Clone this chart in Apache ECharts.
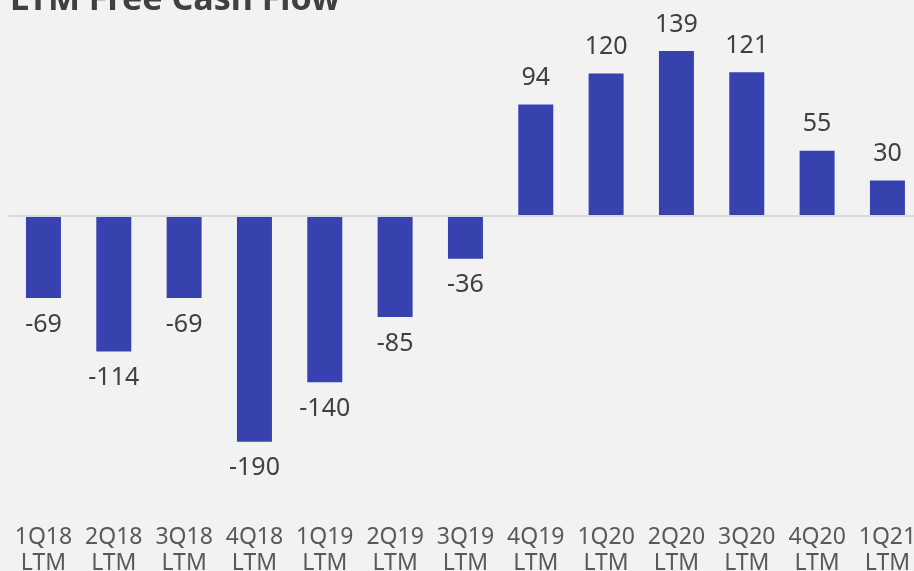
<!DOCTYPE html>
<html><head><meta charset="utf-8">
<script src="https://cdn.jsdelivr.net/npm/echarts@6/dist/echarts.min.js"></script>
<style>html,body{margin:0;padding:0;background:#F2F2F2;overflow:hidden}#c{width:914px;height:571px}</style>
</head><body><div id="c"></div>
<script>
const categories = ['1Q18\nLTM','2Q18\nLTM','3Q18\nLTM','4Q18\nLTM','1Q19\nLTM','2Q19\nLTM','3Q19\nLTM','4Q19\nLTM','1Q20\nLTM','2Q20\nLTM','3Q20\nLTM','4Q20\nLTM','1Q21\nLTM'];
const fcfValues = [-69,-114,-69,-190,-140,-85,-36,94,120,139,121,55,30];
const titleText = 'LTM Free Cash Flow';
const FONT = '"Noto Sans", sans-serif';
const chart = echarts.init(document.getElementById('c'));
chart.setOption({
  backgroundColor: '#F2F2F2',
  animation: false,
  title: { text: titleText, left: 5, top: -22, textStyle: { fontFamily: FONT, fontSize: 34, fontWeight: 'bold', color: '#404040' } },
  grid: { left: 8.3, width: 914.3, top: 2.25, height: 451.25, outerBoundsMode: 'none', containLabel: false },
  xAxis: {
    type: 'category', data: categories,
    axisLine: { show: false }, axisTick: { show: false },
    axisLabel: { interval: 0, margin: 71, fontFamily: FONT, fontSize: 23, lineHeight: 26, color: '#595959' }
  },
  yAxis: { type: 'value', min: -200, max: 180, show: false, splitLine: { show: false } },
  series: [{
    type: 'bar', barWidth: 35,
    data: fcfValues.map(v => ({ value: v, label: { position: v >= 0 ? 'top' : 'bottom' } })),
    itemStyle: { color: '#3742AE' },
    label: { show: true, distance: 14, fontFamily: FONT, fontSize: 25, color: '#404040' },
    markLine: { silent: true, symbol: 'none', label: { show: false }, lineStyle: { color: '#D9D9D9', width: 2, type: 'solid' }, data: [{ yAxis: 0 }] }
  }]
});
</script></body></html>
